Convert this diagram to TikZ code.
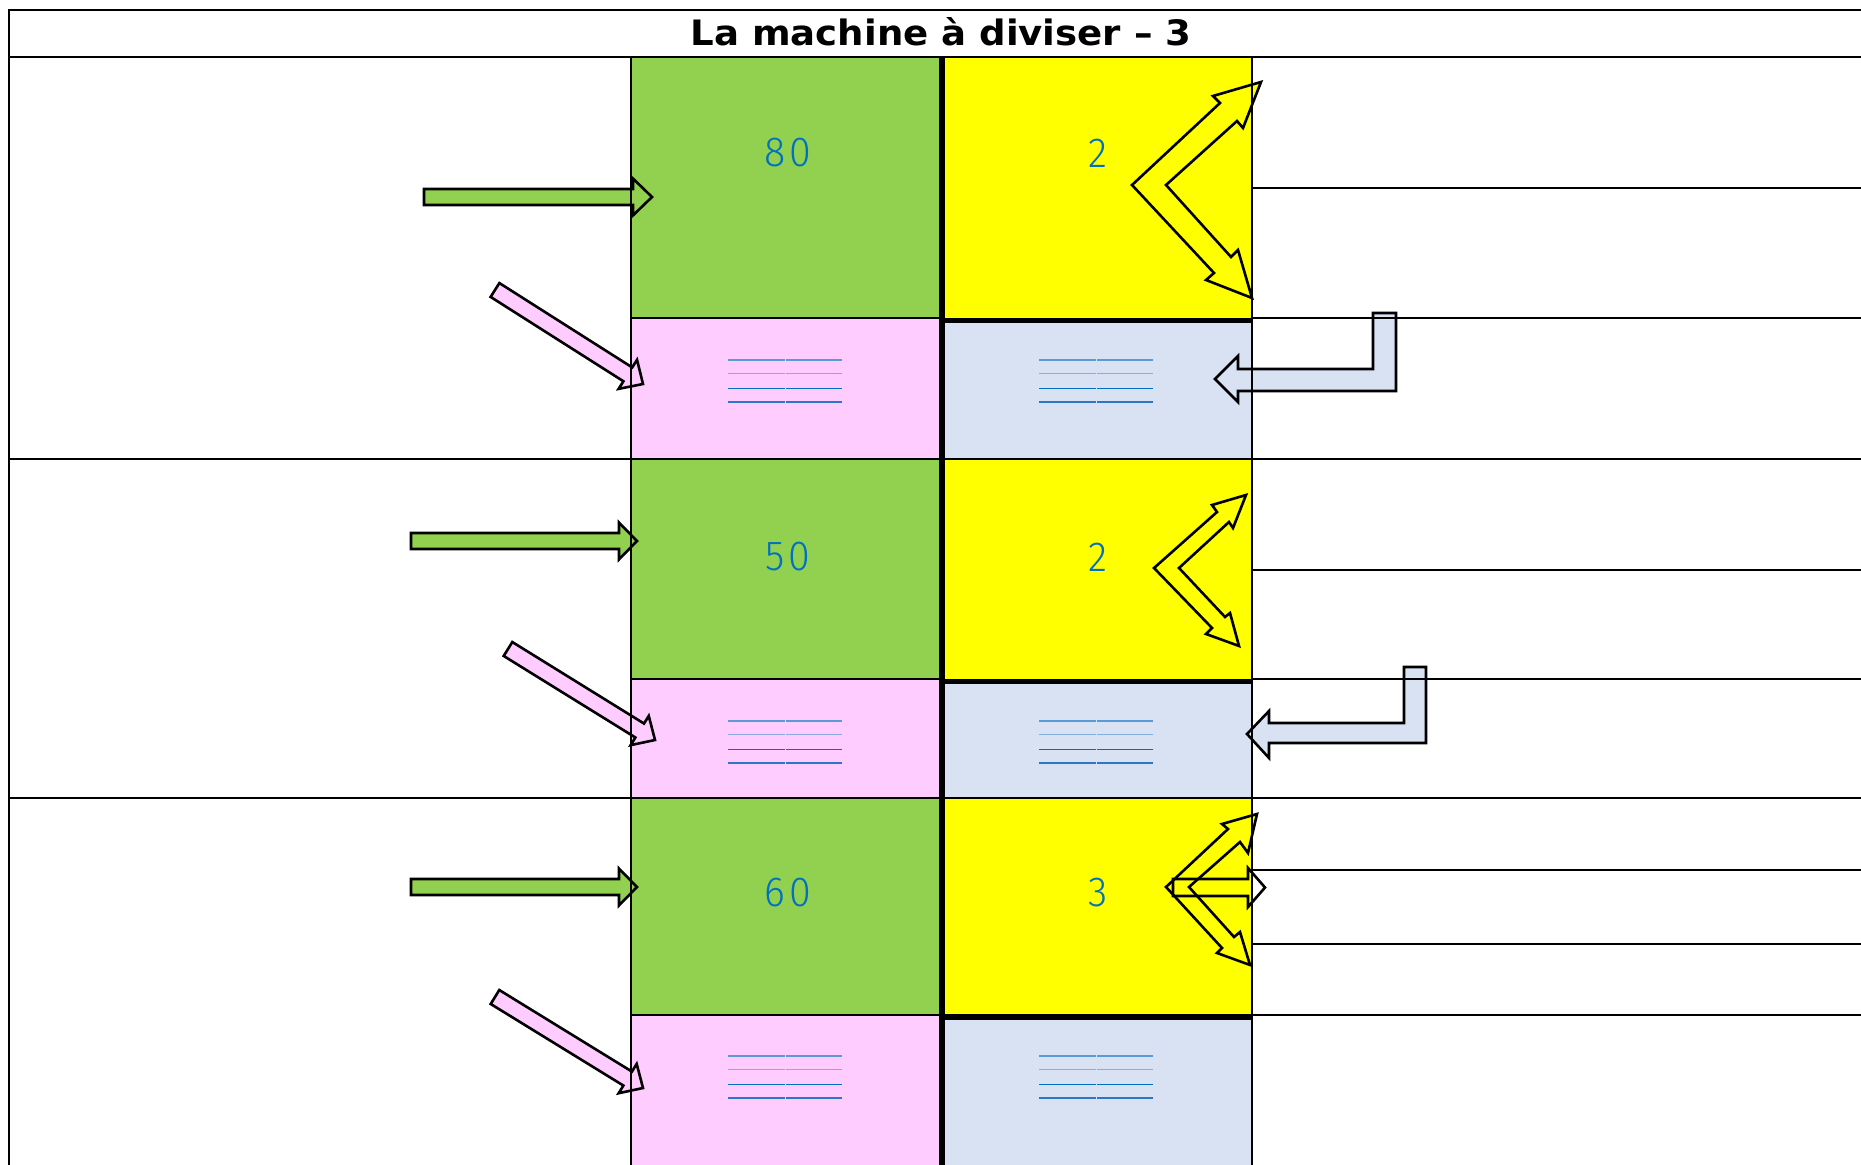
\documentclass[tikz,border=0pt]{standalone}
\usepackage{fontspec}
\usetikzlibrary{calc}

\newfontfamily\titlefont{DejaVu Sans}[FakeStretch=1.06]
\newfontfamily\numfont{Fira Sans Light}[FakeStretch=0.94,LetterSpace=9]

\definecolor{cgreen}{HTML}{92D050}
\definecolor{cyellow}{HTML}{FFFF00}
\definecolor{cpink}{HTML}{FFCCFF}
\definecolor{cslate}{HTML}{D9E2F3}
\definecolor{cnum}{HTML}{0070C0}
\definecolor{lineA}{HTML}{5B9BD5}
\definecolor{lineD}{HTML}{2E75C6}

\tikzset{
  grid/.style={line width=1.1pt, line cap=rect},
  heavy/.style={line width=2.6pt},
  outline/.style={draw=black, line width=1.3pt, line join=miter},
  greenarrow/.style={outline, fill=cgreen},
  pinkarrow/.style={outline, fill=cpink},
  slatearrow/.style={outline, fill=cslate},
  vee/.style={outline, fill=cyellow},
  num/.style={font=\numfont\fontsize{21}{24}\selectfont, text=cnum, inner sep=0pt},
  bar/.style={line width=0.9pt},
}

% block arrow: style, tail, tip, half shaft, half head, head length
\newcommand\blockarrow[6]{%
  \coordinate (#2-base) at ($(#3)!#6!(#2)$);
  \draw[#1] ($(#2)!#4!90:(#3)$) -- ($(#2-base)!#4!90:(#3)$)
    -- ($(#2-base)!#5!90:(#3)$) -- (#3)
    -- ($(#2-base)!#5!-90:(#3)$) -- ($(#2-base)!#4!-90:(#3)$)
    -- ($(#2)!#4!-90:(#3)$) -- cycle;}

% four ruled bars, each cut in two halves
\newcommand\ruling[2]{%
  \foreach \dy/\col/\op in {0/lineA/1, 13.5/lineA/0.7, 28.5/cnum/1, 42/lineD/1}{
    \draw[bar, \col, opacity=\op] (#1,#2+\dy) -- ++(56.5,0)
                                  (#1+57.5,#2+\dy) -- ++(56.5,0);
  }}

\begin{document}
\begin{tikzpicture}[x=0.5pt, y=-0.5pt]
\useasboundingbox (0,0) rectangle (1861,1165);

% coloured cells
\fill[cgreen]  (631,57)   rectangle (942,318);
\fill[cpink]   (631,318)  rectangle (942,459);
\fill[cyellow] (942,57)   rectangle (1252,320);
\fill[cslate]  (942,320)  rectangle (1252,459);
\fill[cgreen]  (631,459)  rectangle (942,679);
\fill[cpink]   (631,679)  rectangle (942,798);
\fill[cyellow] (942,459)  rectangle (1252,681);
\fill[cslate]  (942,681)  rectangle (1252,798);
\fill[cgreen]  (631,798)  rectangle (942,1015);
\fill[cpink]   (631,1015) rectangle (942,1165);
\fill[cyellow] (942,798)  rectangle (1252,1017);
\fill[cslate]  (942,1017) rectangle (1252,1165);

% ruled answer lines
\ruling{728}{360}  \ruling{1039}{360}
\ruling{728}{721}  \ruling{1039}{721}
\ruling{728}{1056} \ruling{1039}{1056}

% green arrows
\coordinate (g1t) at (424,197);  \coordinate (g1h) at (652,197);
\coordinate (g2t) at (411,541);  \coordinate (g2h) at (637,541);
\coordinate (g3t) at (411,887);  \coordinate (g3h) at (637,887);
\blockarrow{greenarrow}{g1t}{g1h}{4pt}{9.2pt}{9.5pt}
\blockarrow{greenarrow}{g2t}{g2h}{4pt}{9.2pt}{9pt}
\blockarrow{greenarrow}{g3t}{g3h}{4pt}{9.2pt}{9pt}

% pink arrows
\coordinate (p1t) at (495,290);  \coordinate (p1h) at (643,384);
\coordinate (p2t) at (508,649);  \coordinate (p2h) at (655,740);
\coordinate (p3t) at (495,997);  \coordinate (p3h) at (643,1088);
\blockarrow{pinkarrow}{p1t}{p1h}{4.1pt}{8.6pt}{9pt}
\blockarrow{pinkarrow}{p2t}{p2h}{4.1pt}{8.6pt}{9pt}
\blockarrow{pinkarrow}{p3t}{p3h}{4.1pt}{8.6pt}{9pt}

% bent slate arrows
\draw[slatearrow] (1373,313) -- (1396,313) -- (1396,391) -- (1238,391)
  -- (1238,402) -- (1215,379) -- (1238,356) -- (1238,369) -- (1373,369) -- cycle;
\draw[slatearrow] (1404,667) -- (1426,667) -- (1426,743) -- (1269,743)
  -- (1269,758) -- (1247,734) -- (1269,711) -- (1269,723) -- (1404,723) -- cycle;

% double-headed chevrons
\draw[vee] (1132,185) -- (1220,103) -- (1213,96) -- (1261,82) -- (1243,128)
  -- (1237,121) -- (1166,185) -- (1231,257) -- (1238,250) -- (1252,298)
  -- (1206,280) -- (1214,273) -- cycle;
\draw[vee] (1154,568) -- (1217,512) -- (1212,505) -- (1246,495) -- (1233,528)
  -- (1229,522) -- (1179,568) -- (1225,617) -- (1230,613) -- (1239,646)
  -- (1206,634) -- (1212,628) -- cycle;
\draw[vee] (1166,887) -- (1228,829) -- (1222,824) -- (1257,814) -- (1248,853)
  -- (1240,842) -- (1189,887) -- (1234,937) -- (1240,932) -- (1250,965)
  -- (1217,953) -- (1222,948) -- cycle;
\coordinate (h3t) at (1173,887.5); \coordinate (h3h) at (1265,887.5);
\blockarrow{outline}{h3t}{h3h}{4.25pt}{9.75pt}{8.5pt}

% table rules
\draw[grid] (9,1165) -- (9,10) -- (1861,10);
\foreach \y in {57,459,798} \draw[grid] (9,\y) -- (1861,\y);
\draw[grid] (631,57) -- (631,1165);
\draw[grid] (1252,57) -- (1252,1165);
\draw[heavy] (942,57) -- (942,1165);
\foreach \y in {188,318,570,679,870,944,1015} \draw[grid] (1252,\y) -- (1861,\y);
\foreach \y in {318,679,1015} \draw[grid] (631,\y) -- (942,\y);
\foreach \y in {320.5,681.5,1017} \draw[heavy] (942,\y) -- (1252,\y);

% title
\node[anchor=base, inner sep=0pt, font=\titlefont\bfseries\fontsize{17.5}{21}\selectfont]
  (title) at (941,46) {La machine à diviser – 3};

% numbers
\node[num] (d1) at (788,153) {80};
\node[num] (s1) at (1098,153) {2};
\node[num] (d2) at (788,557) {50};
\node[num] (s2) at (1098,557) {2};
\node[num] (d3) at (788,893) {60};
\node[num] (s3) at (1098,893) {3};
\end{tikzpicture}
\end{document}
